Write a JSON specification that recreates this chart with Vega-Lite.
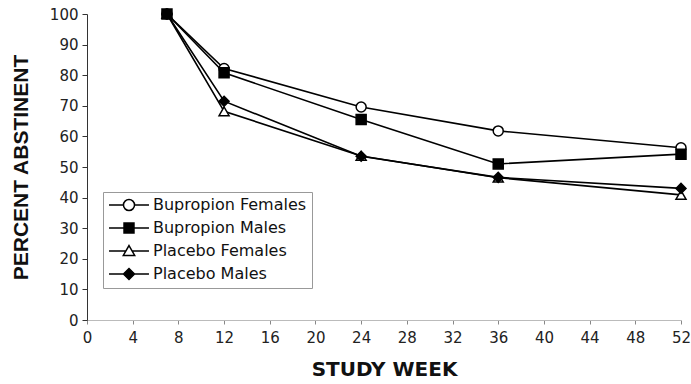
{
  "$schema": "https://vega.github.io/schema/vega-lite/v6.json",
  "width": 594,
  "height": 306,
  "autosize": {"type": "none"},
  "padding": {"left": 87, "top": 14, "right": 10, "bottom": 64},
  "background": "white",
  "config": {
    "view": {"stroke": null},
    "font": "DejaVu Sans",
    "mark": {"color": "black"},
    "point": {"color": "black"},
    "axis": {"grid": false, "labelFont": "DejaVu Sans", "labelColor": "#222", "titleColor": "#111"}
  },
  "data": {
    "values": [
      {"week": 7, "pct": 100, "group": "Bupropion Females"},
      {"week": 12, "pct": 82.2, "group": "Bupropion Females"},
      {"week": 24, "pct": 69.6, "group": "Bupropion Females"},
      {"week": 36, "pct": 61.8, "group": "Bupropion Females"},
      {"week": 52, "pct": 56.3, "group": "Bupropion Females"},
      {"week": 7, "pct": 100, "group": "Placebo Females"},
      {"week": 12, "pct": 68.2, "group": "Placebo Females"},
      {"week": 24, "pct": 53.6, "group": "Placebo Females"},
      {"week": 36, "pct": 46.5, "group": "Placebo Females"},
      {"week": 52, "pct": 40.9, "group": "Placebo Females"},
      {"week": 7, "pct": 100, "group": "Placebo Males"},
      {"week": 12, "pct": 71.5, "group": "Placebo Males"},
      {"week": 24, "pct": 53.5, "group": "Placebo Males"},
      {"week": 36, "pct": 46.6, "group": "Placebo Males"},
      {"week": 52, "pct": 43.0, "group": "Placebo Males"},
      {"week": 7, "pct": 100, "group": "Bupropion Males"},
      {"week": 12, "pct": 80.8, "group": "Bupropion Males"},
      {"week": 24, "pct": 65.5, "group": "Bupropion Males"},
      {"week": 36, "pct": 51.0, "group": "Bupropion Males"},
      {"week": 52, "pct": 54.2, "group": "Bupropion Males"}
    ]
  },
  "encoding": {
    "x": {
      "field": "week", "type": "quantitative",
      "scale": {"domain": [0, 52], "nice": false},
      "axis": {"values": [0,4,8,12,16,20,24,28,32,36,40,44,48,52], "title": "STUDY WEEK", "titleFont": "DejaVu Sans", "titleFontSize": 20, "titleFontWeight": "bold", "titlePadding": 14, "labelFontSize": 15, "labelPadding": 6, "domainColor": "#bbb", "tickColor": "#888", "tickSize": 4, "labelFlush": false}
    },
    "y": {
      "field": "pct", "type": "quantitative",
      "scale": {"domain": [0, 100], "nice": false},
      "axis": {"values": [0,10,20,30,40,50,60,70,80,90,100], "title": "PERCENT ABSTINENT", "titleFont": "Liberation Sans", "titleFontSize": 21, "titleFontWeight": "bold", "titlePadding": 18, "labelFontSize": 15, "labelPadding": 4, "domainColor": "#333", "tickColor": "#333", "tickSize": 5}
    }
  },
  "layer": [
    {
      "mark": {"type": "line", "color": "black", "strokeWidth": 1.6},
      "encoding": {"detail": {"field": "group"}}
    },
    {
      "mark": {"type": "point", "filled": false, "strokeWidth": 1.5, "opacity": 1},
      "encoding": {
        "shape": {
          "field": "group", "type": "nominal",
          "scale": {"domain": ["Bupropion Females", "Bupropion Males", "Placebo Females", "Placebo Males"], "range": ["circle", "square", "triangle-up", "diamond"]},
          "legend": null
        },
        "fill": {
          "field": "group", "type": "nominal",
          "scale": {"domain": ["Bupropion Females", "Bupropion Males", "Placebo Females", "Placebo Males"], "range": ["white", "black", "white", "black"]},
          "legend": null
        },
        "stroke": {"value": "black"},
        "size": {"value": 100}
      }
    },
    {
      "transform": [{"filter": "datum.week < 0"}],
      "mark": {"type": "point", "filled": false, "color": "black", "strokeWidth": 1.5, "opacity": 1},
      "encoding": {
        "shape": {
          "field": "group", "type": "nominal",
          "scale": {"domain": ["Bupropion Females", "Bupropion Males", "Placebo Females", "Placebo Males"], "range": [
            "M-3.33,0H-0.92M0.92,0H3.33M-0.92,0A0.92,0.92 0 1,0 0.92,0A0.92,0.92 0 1,0 -0.92,0Z",
            "M-3.33,0H-0.83M0.83,0H3.33M-0.83,-0.83H0.83V0.83H-0.83Z",
            "M-3.33,0H-0.52M0.52,0H3.33M0,-0.9L0.95,0.75H-0.95Z",
            "M-3.33,0H-0.92M0.92,0H3.33M0,-0.92L0.92,0L0,0.92L-0.92,0Z"
          ]},
          "legend": {"title": null, "orient": "none", "legendX": 16, "legendY": 178, "strokeColor": "#999", "padding": 5, "labelFontSize": 16, "labelFont": "DejaVu Sans", "labelColor": "#111", "symbolSize": 144, "symbolStrokeWidth": 1.5, "symbolOffset": 13, "labelOffset": 16, "rowPadding": 6, "fillColor": "white"}
        },
        "fill": {
          "field": "group", "type": "nominal",
          "scale": {"domain": ["Bupropion Females", "Bupropion Males", "Placebo Females", "Placebo Males"], "range": ["white", "black", "white", "black"]},
          "legend": {"title": null, "orient": "none", "legendX": 16, "legendY": 178, "strokeColor": "#999", "padding": 5, "labelFontSize": 16, "labelFont": "DejaVu Sans", "labelColor": "#111", "symbolSize": 144, "symbolStrokeWidth": 1.5, "symbolOffset": 13, "labelOffset": 16, "rowPadding": 6, "fillColor": "white"}
        },
        "size": {"value": 144}
      }
    }
  ],
  "resolve": {"scale": {"shape": "independent", "fill": "independent"}}
}
